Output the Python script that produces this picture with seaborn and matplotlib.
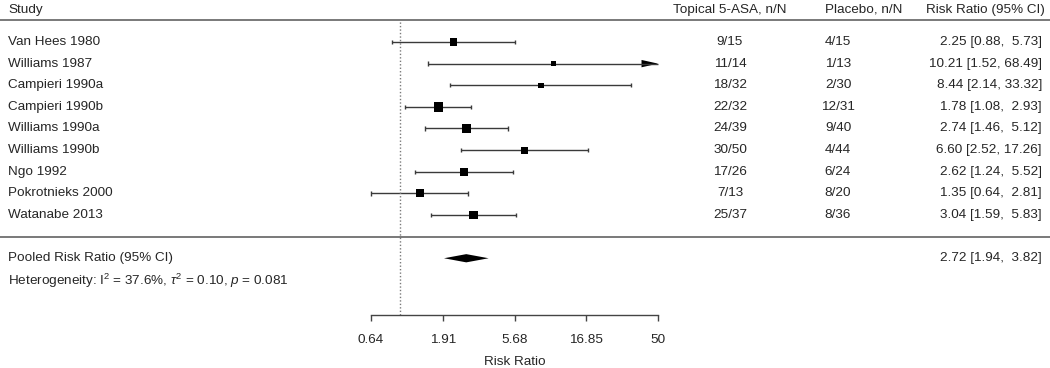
import numpy as np
import pandas as pd
import seaborn as sns
import matplotlib.pyplot as plt
from matplotlib.ticker import NullLocator

# data
studies = ["Van Hees 1980", "Williams 1987", "Campieri 1990a", "Campieri 1990b",
           "Williams 1990a", "Williams 1990b", "Ngo 1992", "Pokrotnieks 2000",
           "Watanabe 2013"]
topical = ["9/15", "11/14", "18/32", "22/32", "24/39", "30/50", "17/26", "7/13", "25/37"]
placebo = ["4/15", "1/13", "2/30", "12/31", "9/40", "4/44", "6/24", "8/20", "8/36"]
rr = [2.25, 10.21, 8.44, 1.78, 2.74, 6.60, 2.62, 1.35, 3.04]
ci_lo = [0.88, 1.52, 2.14, 1.08, 1.46, 2.52, 1.24, 0.64, 1.59]
ci_hi = [5.73, 68.49, 33.32, 2.93, 5.12, 17.26, 5.52, 2.81, 5.83]
weights = [9.3, 2.9, 5.2, 18.6, 15.2, 9.0, 12.5, 12.7, 14.6]   # % weight (square size)

pooled_rr = 2.72
pooled_lo = 1.94
pooled_hi = 3.82

xticks = [0.64, 1.91, 5.68, 16.85, 50]
xtick_labels = ["0.64", "1.91", "5.68", "16.85", "50"]

het_text = r"Heterogeneity: I$^2$ = 37.6%, $\tau^2$ = 0.10, $p$ = 0.081"

#-------------------------------------------------------------------------------

sns.set_style("white")
plt.rcParams["font.family"] = ["Liberation Sans", "DejaVu Sans"]
plt.rcParams["mathtext.fontset"] = "custom"
plt.rcParams["mathtext.rm"] = "Liberation Sans"
plt.rcParams["mathtext.it"] = "Liberation Sans:italic"
FS = 9.7

k = len(studies)
rows = np.arange(k, 0, -1)
df = pd.DataFrame({"study": studies, "rr": rr, "lo": ci_lo, "hi": ci_hi,
                   "w": weights, "row": rows})

fig = plt.figure(figsize=(10.5, 3.68), dpi=100)
ax = fig.add_axes([0, 0, 1, 1])
ax.set_xscale("log")
ax.set_xlim(np.exp(-6.080), np.exp(9.865))
ax.set_ylim(-6.075, 10.942)

xmax = xticks[-1]
line_col = "#3a3a3a"

# CI lines, whiskers and arrow for clipped upper bounds
for _, r in df.iterrows():
    hi = min(r["hi"], xmax)
    ax.hlines(r["row"], r["lo"], hi, color=line_col, lw=1.0)
    ax.vlines(r["lo"], r["row"] - 0.1, r["row"] + 0.1, color=line_col, lw=1.0)
    if r["hi"] > xmax:
        base = xmax / np.exp(0.25)
        ax.fill([base, xmax, base], [r["row"] + 0.17, r["row"], r["row"] - 0.17],
                color="black", lw=0)
    else:
        ax.vlines(hi, r["row"] - 0.1, r["row"] + 0.1, color=line_col, lw=1.0)

# squares sized by weight
sns.scatterplot(data=df, x="rr", y="row", size="w", sizes=(10, 48), marker="s",
                color="black", linewidth=0, legend=False, ax=ax, zorder=3)
ax.set_xlabel("")
ax.set_ylabel("")

# pooled diamond
ax.fill([pooled_lo, pooled_rr, pooled_hi, pooled_rr], [-1, -0.81, -1, -1.19],
        color="black", lw=0)

# reference line at 1
ax.vlines(1, -3.62, 10.0, color="#7a7a7a", lw=1.0, linestyles=(0, (1, 1.5)))

# header and separator lines
ax.axhline(10.0, color="#555555", lw=1.1)
ax.axhline(0.0, color="#555555", lw=1.1)

# x axis
for s in ["top", "right", "left"]:
    ax.spines[s].set_visible(False)
ax.spines["bottom"].set_position(("data", -3.62))
ax.spines["bottom"].set_bounds(xticks[0], xticks[-1])
ax.spines["bottom"].set_color("#444444")
ax.spines["bottom"].set_linewidth(1.0)
ax.set_xticks(xticks)
ax.set_xticklabels(xtick_labels, fontsize=FS)
ax.xaxis.set_minor_locator(NullLocator())
ax.tick_params(axis="x", direction="out", length=4.5, width=1.0, color="#444444",
               pad=9.5, bottom=True)
ax.set_yticks([])
ax.text(np.sqrt(xticks[0] * xticks[-1]), -5.8, "Risk Ratio", ha="center",
        va="center", fontsize=FS)

# text columns (x in axes fraction, y in rows)
tr = ax.get_yaxis_transform()
hdr_y = 10.5
x_study, x_top, x_plc, x_rr = 8 / 1050, 730 / 1050, 838 / 1050, 1042 / 1050
ax.text(x_study, hdr_y, "Study", transform=tr, ha="left", va="center", fontsize=FS)
ax.text(x_top, hdr_y, "Topical 5-ASA, n/N", transform=tr, ha="center", va="center", fontsize=FS)
ax.text(864 / 1050, hdr_y, "Placebo, n/N", transform=tr, ha="center", va="center", fontsize=FS)
ax.text(1045 / 1050, hdr_y, "Risk Ratio (95% CI)", transform=tr, ha="right", va="center", fontsize=FS)

for _, r in df.iterrows():
    i = int(k - r["row"])
    ax.text(x_study, r["row"], r["study"], transform=tr, ha="left", va="center", fontsize=FS)
    ax.text(x_top, r["row"], topical[i], transform=tr, ha="center", va="center", fontsize=FS)
    ax.text(x_plc, r["row"], placebo[i], transform=tr, ha="center", va="center", fontsize=FS)
    ax.text(x_rr, r["row"], f"{r['rr']:.2f} [{r['lo']:.2f}, {r['hi']:>5.2f}]",
            transform=tr, ha="right", va="center", fontsize=FS)

ax.text(x_study, -1, "Pooled Risk Ratio (95% CI)", transform=tr, ha="left", va="center", fontsize=FS)
ax.text(x_rr, -1, f"{pooled_rr:.2f} [{pooled_lo:.2f}, {pooled_hi:>5.2f}]",
        transform=tr, ha="right", va="center", fontsize=FS)
ax.text(x_study, -2.05, het_text, transform=tr, ha="left", va="center", fontsize=FS)

fig.savefig("out.png", dpi=100)
